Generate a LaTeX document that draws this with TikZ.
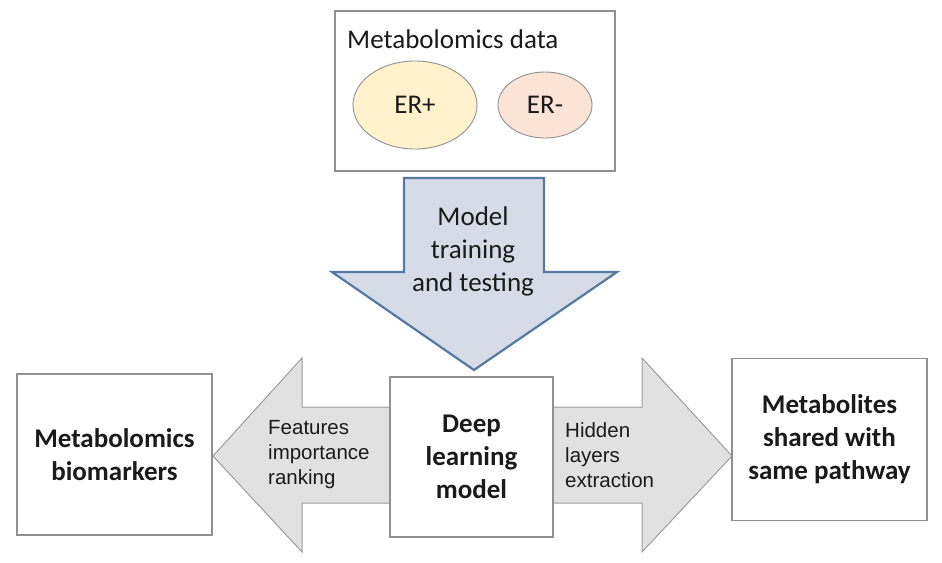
\documentclass[tikz,border=0pt]{standalone}
\usepackage{fontspec}
\setmainfont{Carlito}
\newfontfamily\arialfont{Liberation Sans}
\usetikzlibrary{shapes.geometric, positioning}

\definecolor{boxline}{HTML}{8E9094}
\definecolor{erposfill}{HTML}{FFF2CC}
\definecolor{ernegfill}{HTML}{FBE3D6}
\definecolor{downfill}{HTML}{D5DCE7}
\definecolor{downline}{HTML}{56799F}
\definecolor{sidefill}{HTML}{E1E1E1}
\definecolor{sideline}{HTML}{9C9C9C}
\definecolor{inkcol}{HTML}{1A1A1A}

\begin{document}
\begin{tikzpicture}[x=1pt, y=-1pt,
    panel/.style={draw=boxline, line width=1.1pt, fill=white, align=center,
        text=inkcol, inner sep=0pt, font=\fontsize{27}{33}\selectfont\bfseries},
    group/.style={draw=boxline, ellipse, line width=0.9pt, inner sep=0pt,
        text=inkcol, font=\fontsize{27}{33}\selectfont},
    downarrow/.style={fill=downfill, draw=downline, line width=2.2pt, line join=miter},
    sidearrow/.style={fill=sidefill, draw=sideline, line width=1pt, line join=miter},
    sidelabel/.style={anchor=west, align=left, text=inkcol, inner sep=0pt,
        font=\arialfont\fontsize{20.5}{25}\selectfont}]

    % --- Canvas ---
    \useasboundingbox (0,0) rectangle (942,562);

    % --- Input data panel ---
    \node[panel, minimum width=280pt, minimum height=160pt] (data) at (475,91) {};
    \node[anchor=base west, text=inkcol, inner sep=0pt,
        font=\fontsize{27}{33}\selectfont] (datatitle) at (347,48) {Metabolomics data};
    \node[group, fill=erposfill, minimum width=124pt, minimum height=88pt] (erpos) at (415,105) {ER+};
    \node[group, fill=ernegfill, minimum width=94pt, minimum height=66pt] (erneg) at (545,105) {ER-};

    % --- Training arrow ---
    \draw[downarrow] (404,178) -- (544,178) -- (544,272) -- (617,272)
        -- (474,370) -- (332,272) -- (404,272) -- cycle;
    \node[align=center, text=inkcol, inner sep=0pt,
        font=\fontsize{27}{33}\selectfont] (train) at (473,251) {Model\\training\\and testing};

    % --- Side arrows (behind the model box) ---
    \draw[sidearrow] (392,407) -- (302,407) -- (302,358) -- (213,456)
        -- (302,552) -- (302,503) -- (392,503) -- cycle;
    \draw[sidearrow] (551,407) -- (642,407) -- (642,358) -- (732,456)
        -- (642,552) -- (642,503) -- (551,503) -- cycle;

    % --- Boxes ---
    \node[panel, minimum width=195pt, minimum height=161pt] (biomarkers) at (114.5,454.5)
        {Metabolomics\\biomarkers};
    \node[panel, minimum width=163pt, minimum height=160pt] (dlmodel) at (471.5,457)
        {Deep\\learning\\model};
    \node[panel, minimum width=195pt, minimum height=162pt] (pathway) at (829.5,439.5)
        {Metabolites\\shared with\\same pathway};

    % --- Arrow labels ---
    \node[sidelabel] (rank) at (268,455) {Features\\importance\\ranking};
    \node[sidelabel] (hidden) at (565,455) {Hidden\\layers\\extraction};

\end{tikzpicture}
\end{document}
